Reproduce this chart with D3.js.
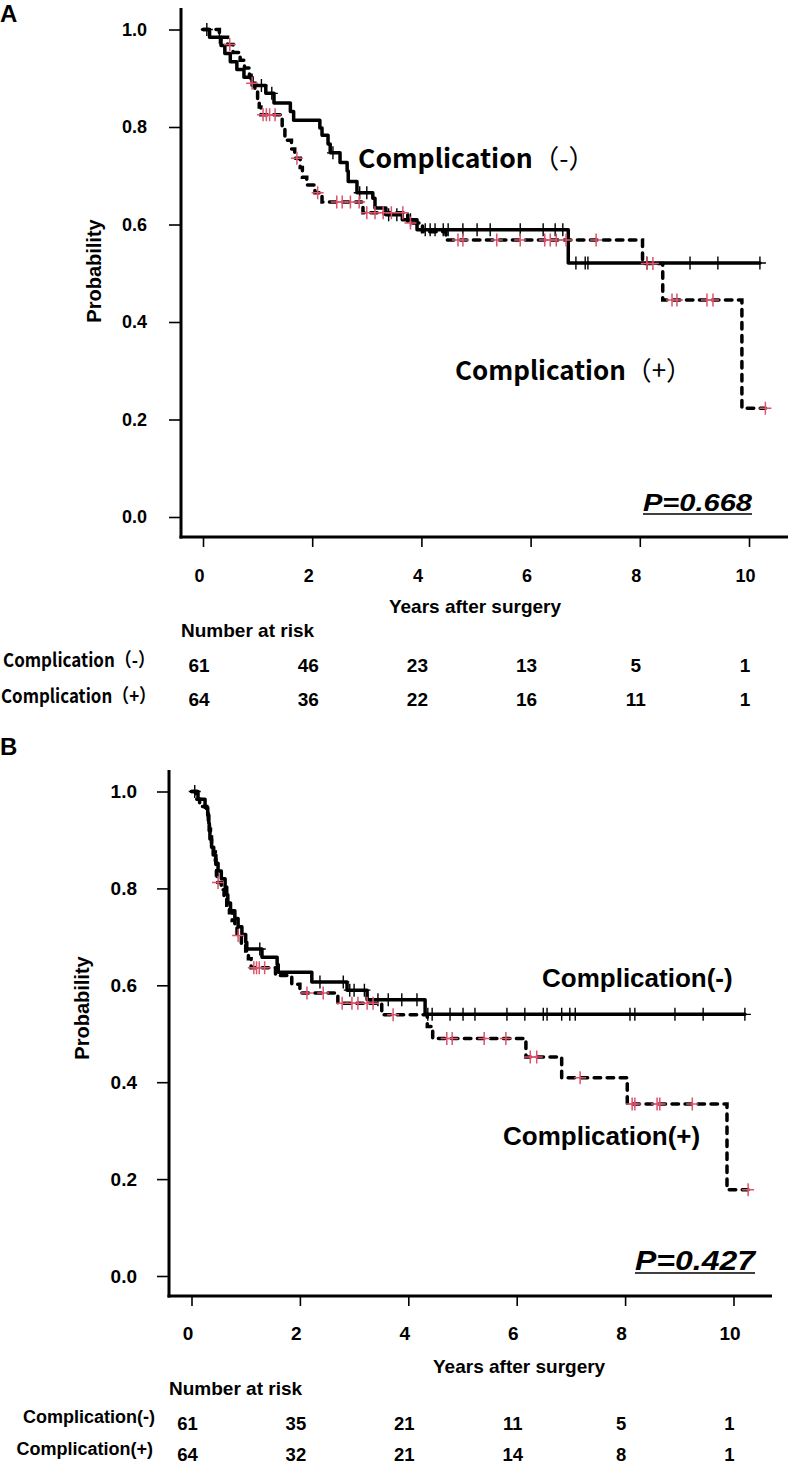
<!DOCTYPE html>
<html><head><meta charset="utf-8">
<script src="https://cdn.jsdelivr.net/npm/d3@7"></script>
<style>body{margin:0;background:#fff}svg{display:block}</style>
</head><body>
<svg id="c" width="788" height="1465"></svg>
<script>
// ---------- shared ----------
const yearTicks = [0, 2, 4, 6, 8, 10];
const probTicks = [0, 0.2, 0.4, 0.6, 0.8, 1.0];
const groupNames = ["Complication(-)", "Complication(+)"];
const groupNamesJP = [["Complication", "（-）"], ["Complication", "（+）"]];
const rowNamesJP = ["Complication（-）", "Complication（+）"];

// ---------- Panel A data ----------
const aNegEvents = [[0.12,0.984],[0.33,0.967],[0.40,0.951],[0.50,0.934],[0.62,0.918],[0.75,0.902],[0.90,0.885],[1.15,0.869],[1.30,0.849],[1.60,0.832],[1.66,0.814],[2.14,0.798],[2.18,0.783],[2.29,0.765],[2.33,0.747],[2.51,0.727],[2.64,0.710],[2.66,0.688],[2.82,0.665],[3.11,0.654],[3.15,0.634],[3.35,0.620],[3.65,0.610],[3.92,0.589],[6.69,0.521]];
const aNegCensor = [0.07,0.30,1.07,1.26,2.38,2.87,3.00,3.40,3.55,3.80,4.07,4.16,4.25,4.40,4.49,4.76,5.02,5.26,5.81,6.23,6.45,6.59,6.83,7.00,7.05,8.13,8.92,9.43,10.20];
const aPosEvents = [[0.30,0.984],[0.45,0.969],[0.55,0.953],[0.68,0.937],[0.76,0.921],[0.85,0.906],[0.88,0.890],[0.95,0.873],[1.00,0.857],[1.03,0.841],[1.06,0.825],[1.45,0.800],[1.50,0.773],[1.62,0.755],[1.68,0.736],[1.78,0.717],[1.82,0.697],[1.90,0.681],[2.05,0.665],[2.18,0.646],[2.93,0.624],[3.75,0.603],[4.02,0.585],[4.45,0.568],[8.05,0.520],[8.42,0.445],[9.87,0.223]];
const aPosCensor = [0.49,0.90,1.10,1.16,1.22,1.32,1.72,2.10,2.45,2.55,2.70,2.86,3.00,3.15,3.30,3.45,3.66,3.80,4.67,4.76,5.38,5.81,6.26,6.36,6.47,6.65,7.20,8.13,8.24,8.59,8.68,9.23,9.34,10.30];
const aRiskNeg = [61, 46, 23, 13, 5, 1];
const aRiskPos = [64, 36, 22, 16, 11, 1];
const aPValue = "P=0.668";

// ---------- Panel B data ----------
const bNegEvents = [[0.12,0.984],[0.25,0.967],[0.30,0.951],[0.32,0.934],[0.33,0.918],[0.34,0.902],[0.37,0.885],[0.40,0.869],[0.45,0.852],[0.49,0.836],[0.55,0.820],[0.62,0.803],[0.65,0.787],[0.67,0.770],[0.72,0.754],[0.80,0.738],[0.86,0.721],[0.93,0.705],[1.00,0.689],[1.02,0.675],[1.30,0.658],[1.58,0.643],[1.60,0.627],[2.22,0.607],[2.87,0.590],[3.24,0.570],[4.31,0.540]];
const bNegCensor = [0.06,1.26,2.37,2.80,2.92,3.00,3.19,3.44,3.63,3.88,4.16,4.36,4.44,4.77,5.01,5.23,5.82,6.15,6.49,6.56,6.83,6.98,7.08,8.09,8.18,8.92,9.44,10.21];
const bPosEvents = [[0.08,0.984],[0.15,0.969],[0.28,0.953],[0.31,0.938],[0.33,0.922],[0.35,0.906],[0.37,0.891],[0.41,0.875],[0.44,0.859],[0.45,0.844],[0.46,0.828],[0.47,0.812],[0.55,0.797],[0.60,0.781],[0.65,0.765],[0.70,0.750],[0.75,0.734],[0.80,0.718],[0.84,0.703],[0.92,0.687],[1.00,0.671],[1.05,0.655],[1.10,0.636],[1.55,0.620],[1.85,0.602],[2.00,0.584],[2.70,0.563],[3.51,0.539],[4.35,0.515],[4.45,0.490],[6.17,0.452],[6.83,0.409],[8.04,0.355],[9.88,0.178]];
const bPosCensor = [0.49,0.86,1.15,1.20,1.25,1.35,2.13,2.43,2.78,2.96,3.07,3.24,3.35,3.72,4.71,4.81,5.40,5.80,6.25,6.37,7.17,8.13,8.18,8.59,8.64,9.24,10.27];
const bRiskNeg = [61, 35, 21, 11, 5, 1];
const bRiskPos = [64, 32, 21, 14, 8, 1];
const bPValue = "P=0.427";

// ---------- drawing ----------
const svg = d3.select("#c");
const RED = "#DF536B";
const SANS = "'Liberation Sans', Arial, sans-serif";
const CJK = "'Noto Sans CJK JP', 'Noto Sans CJK SC', sans-serif";
const NARROW = "'Liberation Sans Narrow', 'Liberation Sans', Arial, sans-serif";

function survAt(events, t) {
  let s = 1;
  for (const e of events) if (e[0] <= t) s = e[1];
  return s;
}

// writes a label: either a plain string or [word, parenthesised part] (lighter parens)
function writeLabel(sel, label) {
  if (Array.isArray(label)) {
    sel.append("tspan").attr("font-weight", "bold").text(label[0]);
    sel.append("tspan").attr("font-weight", 400).text(label[1]);
  } else {
    sel.text(label);
  }
}

function drawPanel(c) {
  const g = svg.append("g");
  const x = d3.scaleLinear().domain([0, 10]).range([c.x0, c.x10]);
  const y = d3.scaleLinear().domain([0, 1]).range([c.y0, c.y1]);

  // panel letter
  g.append("text").attr("x", c.letterX).attr("y", c.letterY).text(c.letter)
    .attr("font-family", SANS).attr("font-weight", "bold").attr("font-size", 24);

  // y axis
  const ya = g.append("g").attr("transform", `translate(${c.axisX},0)`)
    .call(d3.axisLeft(y).tickValues(probTicks).tickSize(12).tickPadding(c.yPad).tickFormat(d3.format(".1f")));
  ya.select(".domain").remove();
  ya.selectAll(".tick line").attr("stroke", "#000").attr("stroke-width", 1.6);
  ya.selectAll(".tick text").attr("font-family", SANS).attr("font-weight", "bold")
    .attr("font-size", c.tickFont).attr("fill", "#000");
  g.append("line").attr("x1", c.axisX).attr("x2", c.axisX).attr("y1", c.axisTop).attr("y2", c.axisY + 1.5)
    .attr("stroke", "#000").attr("stroke-width", 3);

  // x axis
  const xa = g.append("g").attr("transform", `translate(0,${c.axisY})`)
    .call(d3.axisBottom(x).tickValues(yearTicks).tickSize(10).tickFormat(d3.format("d")));
  xa.select(".domain").remove();
  xa.selectAll(".tick line").attr("stroke", "#000").attr("stroke-width", 1.6);
  xa.selectAll(".tick text").attr("font-family", SANS).attr("font-weight", "bold")
    .attr("font-size", c.tickFont).attr("fill", "#000")
    .attr("x", -4).attr("y", c.xLabOff).attr("dy", 0);
  g.append("line").attr("x1", c.axisX - 1.5).attr("x2", c.axisRight).attr("y1", c.axisY).attr("y2", c.axisY)
    .attr("stroke", "#000").attr("stroke-width", 3);

  // axis titles
  g.append("text").attr("x", c.xTitleX).attr("y", c.xTitleY).attr("text-anchor", c.xTitleAnchor)
    .attr("font-family", SANS).attr("font-weight", "bold").attr("font-size", 19).text("Years after surgery");
  g.append("text").attr("transform", `translate(${c.yTitleX},${c.yTitleY}) rotate(-90)`)
    .attr("text-anchor", "middle").attr("font-family", SANS).attr("font-weight", "bold")
    .attr("font-size", 20).text("Probability");

  // curves
  const line = d3.line().x(d => x(d[0])).y(d => y(d[1])).curve(d3.curveStepAfter);
  function curvePts(events, censors) {
    const pts = [[0, 1], ...events];
    const tEnd = d3.max([d3.max(censors), d3.max(events, e => e[0])]);
    pts.push([tEnd, pts[pts.length - 1][1]]);
    return pts;
  }
  g.append("path").attr("d", line(curvePts(c.negEvents, c.negCensor)))
    .attr("fill", "none").attr("stroke", "#000").attr("stroke-width", 3.5)
    .attr("stroke-linejoin", "round").attr("stroke-linecap", "round");
  g.append("path").attr("d", line(curvePts(c.posEvents, c.posCensor)))
    .attr("fill", "none").attr("stroke", "#000").attr("stroke-width", 3.5)
    .attr("stroke-dasharray", "6.5,6.5").attr("stroke-linecap", "round");

  // censor marks
  const plus = (t, ev) => {
    const px = x(t), py = y(survAt(ev, t));
    return `M${px - 6},${py}H${px + 6}M${px},${py - 6.5}V${py + 6.5}`;
  };
  g.append("g").selectAll("path").data(c.negCensor).join("path")
    .attr("d", t => plus(t, c.negEvents)).attr("stroke", "#000").attr("stroke-width", 1.4).attr("fill", "none");
  g.append("g").selectAll("path").data(c.posCensor).join("path")
    .attr("d", t => plus(t, c.posEvents)).attr("stroke", RED).attr("stroke-width", 1.5).attr("fill", "none");

  // curve labels
  [[c.negLab, c.labText[0]], [c.posLab, c.labText[1]]].forEach(([pos, txt]) => {
    const t = g.append("text").attr("x", pos[0]).attr("y", pos[1])
      .attr("font-family", c.labFont).attr("font-weight", "bold").attr("font-size", c.labSize);
    writeLabel(t, txt);
    if (c.labLen) t.attr("textLength", c.labLen).attr("lengthAdjust", "spacingAndGlyphs");
  });

  // p value
  g.append("text").attr("x", c.pX).attr("y", c.pY).text(c.pValue)
    .attr("font-family", NARROW).attr("font-weight", "bold").attr("font-style", "italic")
    .attr("font-size", c.pSize).attr("textLength", c.pLen).attr("lengthAdjust", "spacingAndGlyphs");
  g.append("line").attr("x1", c.pX).attr("x2", c.pX + c.pLen).attr("y1", c.pY + 3).attr("y2", c.pY + 3)
    .attr("stroke", "#000").attr("stroke-width", 1.6);

  // number at risk
  g.append("text").attr("x", c.axisX).attr("y", c.narY).text("Number at risk")
    .attr("font-family", SANS).attr("font-weight", "bold").attr("font-size", 19);
  [c.riskNeg, c.riskPos].forEach((arr, i) => {
    const r = g.append("text").attr("x", c.rowLabX[i]).attr("y", c.rowLabY[i])
      .attr("font-family", c.rowFont).attr("font-weight", "bold").attr("font-size", c.rowSize)
      .attr("text-anchor", c.rowAnchor).text(c.rowText[i]);
    if (c.rowLen) r.attr("textLength", c.rowLen[i]).attr("lengthAdjust", "spacingAndGlyphs");
    g.append("g").selectAll("text").data(arr).join("text")
      .attr("x", (d, j) => x(yearTicks[j]) - 4).attr("y", c.rowNumY[i])
      .attr("text-anchor", "middle").attr("font-family", SANS).attr("font-weight", "bold")
      .attr("font-size", c.numSize).text(d => d);
  });
}

drawPanel({
  letter: "A", letterX: 0, letterY: 22,
  x0: 203, x10: 749, y0: 517, y1: 29.5,
  axisX: 181, axisTop: 8, axisY: 537, axisRight: 788, yPad: 22, xLabOff: 45, tickFont: 18,
  xTitleX: 475, xTitleY: 613, xTitleAnchor: "middle", yTitleX: 101, yTitleY: 271,
  negEvents: aNegEvents, negCensor: aNegCensor, posEvents: aPosEvents, posCensor: aPosCensor,
  labText: groupNamesJP, labFont: CJK, labSize: 26, labLen: 237,
  negLab: [358, 168], posLab: [455, 380],
  pValue: aPValue, pX: 643, pY: 511, pSize: 23, pLen: 109,
  narY: 637, riskNeg: aRiskNeg, riskPos: aRiskPos,
  rowText: rowNamesJP, rowFont: CJK, rowSize: 19, rowAnchor: "start",
  rowLabX: [3, 1], rowLabY: [667, 703], rowLen: [152, 155], rowNumY: [672, 706], numSize: 19
});

drawPanel({
  letter: "B", letterX: 0, letterY: 755,
  x0: 191.5, x10: 733.5, y0: 1276, y1: 791.5,
  axisX: 169, axisTop: 770, axisY: 1296, axisRight: 772, yPad: 20, xLabOff: 44, tickFont: 19,
  xTitleX: 433, xTitleY: 1373, xTitleAnchor: "start", yTitleX: 89, yTitleY: 1008,
  negEvents: bNegEvents, negCensor: bNegCensor, posEvents: bPosEvents, posCensor: bPosCensor,
  labText: groupNames, labFont: SANS, labSize: 26, labLen: null,
  negLab: [542, 987], posLab: [503, 1145],
  pValue: bPValue, pX: 635, pY: 1270, pSize: 28, pLen: 120,
  narY: 1395, riskNeg: bRiskNeg, riskPos: bRiskPos,
  rowText: groupNames, rowFont: SANS, rowSize: 18, rowAnchor: "end",
  rowLabX: [155, 153], rowLabY: [1423, 1455], rowLen: null, rowNumY: [1430, 1461], numSize: 18.5
});
</script>
</body></html>
